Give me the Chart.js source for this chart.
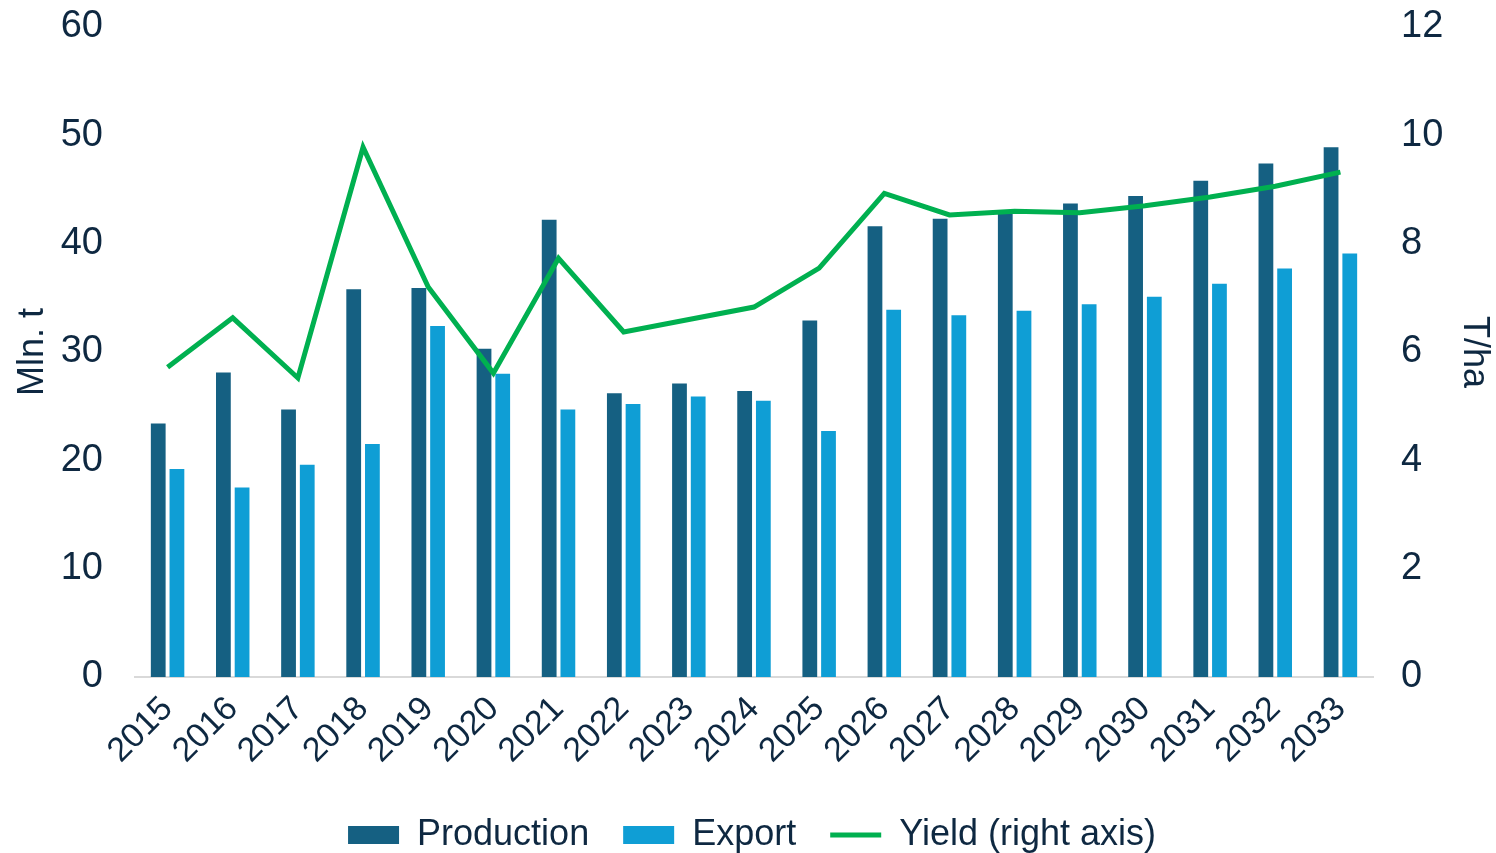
<!DOCTYPE html>
<html>
<head>
<meta charset="utf-8">
<script src="https://cdn.jsdelivr.net/npm/chart.js@4.4.0/dist/chart.umd.min.js"></script>
<style>
    html, body { margin: 0; padding: 0; background: #ffffff; }
</style>
</head>
<body>
<canvas id="productionChart" width="1496" height="853"></canvas>
<script>
// values
const years = ['2015', '2016', '2017', '2018', '2019', '2020', '2021', '2022', '2023', '2024',
    '2025', '2026', '2027', '2028', '2029', '2030', '2031', '2032', '2033'];
const production = [23.4, 28.1, 24.7, 35.8, 35.9, 30.3, 42.2, 26.2, 27.1, 26.4,
    32.9, 41.6, 42.3, 43.0, 43.7, 44.4, 45.8, 47.4, 48.9];
const exportValues = [19.2, 17.5, 19.6, 21.5, 32.4, 28.0, 24.7, 25.2, 25.9, 25.5,
    22.7, 33.9, 33.4, 33.8, 34.4, 35.1, 36.3, 37.7, 39.1];
const yieldValues = [5.72, 6.63, 5.52, 9.78, 7.2, 5.61, 7.73, 6.37, 6.6, 6.83,
    7.55, 8.93, 8.53, 8.6, 8.57, 8.7, 8.86, 9.06, 9.32];

const textColor = '#0E2841';
const fontFamily = '"Liberation Sans", Arial, sans-serif';

const ctx = document.getElementById('productionChart').getContext('2d');

new Chart(ctx, {
    type: 'bar',
    data: {
        labels: years,
        datasets: [{
            label: 'Production',
            data: production,
            backgroundColor: '#156082',
            borderWidth: 0,
            pointStyle: 'rect',
            yAxisID: 'y',
            order: 2
        }, {
            label: 'Export',
            data: exportValues,
            backgroundColor: '#0F9ED5',
            borderWidth: 0,
            pointStyle: 'rect',
            yAxisID: 'y',
            order: 2
        }, {
            type: 'line',
            label: 'Yield (right axis)',
            data: yieldValues,
            borderColor: '#00B050',
            backgroundColor: '#00B050',
            borderWidth: 5,
            pointRadius: 0,
            pointStyle: 'line',
            tension: 0,
            yAxisID: 'y1',
            order: 1
        }]
    },
    options: {
        responsive: false,
        animation: false,
        devicePixelRatio: 1,
        categoryPercentage: 0.574,
        barPercentage: 0.79,
        layout: {
            padding: {top: 27, left: 8, right: 0, bottom: -10}
        },
        plugins: {
            tooltip: {enabled: false},
            legend: {
                position: 'bottom',
                labels: {
                    usePointStyle: true,
                    pointStyleWidth: 51,
                    boxHeight: 18,
                    padding: 34,
                    color: textColor,
                    font: {family: fontFamily, size: 36},
                    sort: (a, b) => a.datasetIndex - b.datasetIndex
                }
            }
        },
        scales: {
            x: {
                grid: {display: false},
                border: {display: true, color: '#D9D9D9', width: 2},
                ticks: {
                    color: textColor,
                    font: {family: fontFamily, size: 34},
                    maxRotation: 45,
                    minRotation: 45,
                    padding: 4
                },
                afterFit: (scale) => { scale.height = 106; }
            },
            y: {
                position: 'left',
                min: 0,
                max: 60,
                grid: {display: false, drawTicks: false},
                border: {display: false},
                ticks: {
                    stepSize: 10,
                    color: textColor,
                    font: {family: fontFamily, size: 38},
                    padding: 32
                },
                title: {
                    display: true,
                    text: 'Mln. t',
                    color: textColor,
                    font: {family: fontFamily, size: 36},
                    padding: {top: 3, bottom: 0}
                },
                afterFit: (scale) => {
                    scale.width = 127;
                    scale.paddingTop = 0;
                }
            },
            y1: {
                position: 'right',
                min: 0,
                max: 12,
                grid: {display: false, drawTicks: false},
                border: {display: false},
                ticks: {
                    stepSize: 2,
                    color: textColor,
                    font: {family: fontFamily, size: 38},
                    padding: 28
                },
                title: {
                    display: true,
                    text: 'T/ha',
                    color: textColor,
                    font: {family: fontFamily, size: 36},
                    padding: {top: 0, bottom: 0}
                },
                afterFit: (scale) => {
                    scale.width = 123;
                    scale.paddingTop = 0;
                }
            }
        }
    }
});
</script>
</body>
</html>
